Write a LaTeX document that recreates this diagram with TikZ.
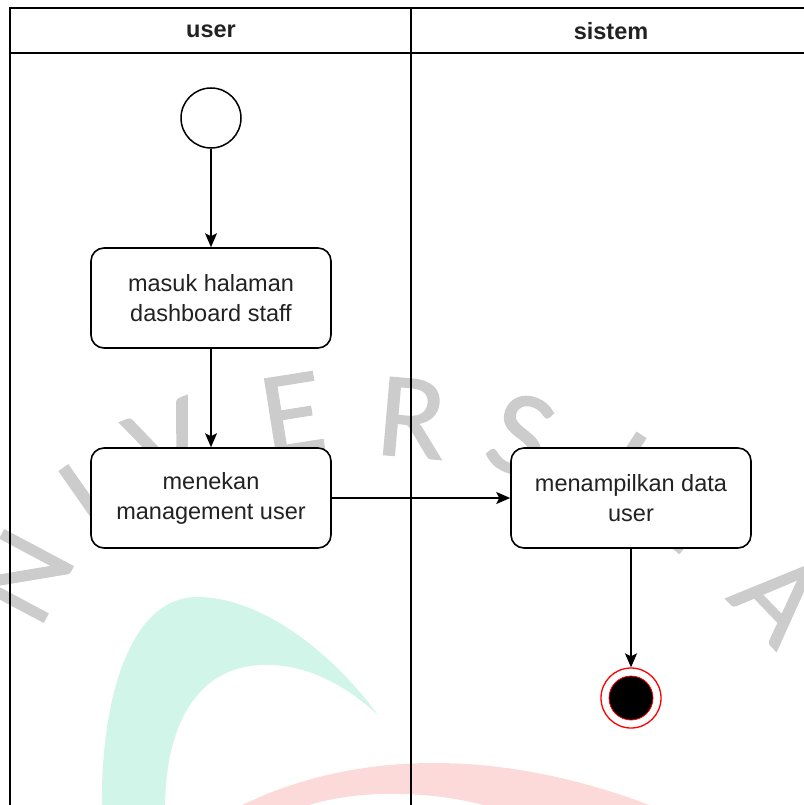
\documentclass[tikz,border=0pt]{standalone}
\usepackage{fontspec}
\setmainfont{Liberation Sans}
\newfontfamily\markfont[BoldFont={Lato}, BoldFeatures={FakeBold=1.6}]{Lato}
\usetikzlibrary{arrows.meta}

\definecolor{wmgrey}{HTML}{CCCCCC}
\definecolor{wmteal}{HTML}{D2F5EA}
\definecolor{wmpink}{HTML}{FDDADA}
\definecolor{txt}{HTML}{222222}

\tikzset{
  lane/.style={line width=1.5pt, draw=black},
  hdr/.style={font=\fontsize{23.5}{28}\selectfont\bfseries, text=txt},
  act/.style={draw=black, line width=1.6pt, fill=white, rectangle,
    rounded corners=13pt, minimum width=240pt, minimum height=100pt,
    align=center, text=txt, font=\fontsize{23.5}{30}\selectfont},
  initnode/.style={draw=black, line width=1.5pt, fill=white, circle,
    minimum size=60pt, inner sep=0pt},
  finalnode/.style={draw=red, line width=1.3pt, fill=white, circle,
    minimum size=60pt, inner sep=0pt},
  flow/.style={line width=1.5pt, draw=black,
    -{Stealth[length=14pt, width=12pt, inset=3pt]}},
  wm/.style={text=wmgrey, inner sep=0pt,
    font=\markfont\bfseries\fontsize{108}{108}\selectfont}
}

\begin{document}
\begin{tikzpicture}[x=1pt, y=-1pt]
\useasboundingbox (0,0) rectangle (803,805);

% faint background mark: arched lettering and two crescents
\node[wm, rotate=62]  (wN)  at (24,576)  {N};
\node[wm, rotate=35]  (wI1) at (86,500)  {I};
\node[wm, rotate=22]  (wV)  at (168,445) {V};
\node[wm, rotate=9]   (wE)  at (292,414) {E};
\node[wm, rotate=-5]  (wR)  at (411,418) {R};
\node[wm, rotate=-20] (wS)  at (521,435) {S};
\node[wm, rotate=-33] (wI2) at (620,468) {I};
\node[wm, rotate=-40] (wT)  at (700,520) {T};
\node[wm, rotate=-46] (wA)  at (779,598) {A};

\fill[wmteal] (102,810) .. controls (100,700) and (130,597) .. (197,597)
  .. controls (260,597) and (330,650) .. (378,715)
  .. controls (340,680) and (300,663) .. (260,665)
  .. controls (200,668) and (165,720) .. (165,810) -- cycle;
\fill[wmpink] (232,810) .. controls (300,775) and (370,763) .. (434,763)
  .. controls (520,763) and (600,785) .. (662,810) -- (500,810)
  .. controls (460,797) and (420,793) .. (380,794)
  .. controls (350,795) and (320,800) .. (295,810) -- cycle;

% swimlane frame
\draw[lane] (10,810) -- (10,8) -- (810,8);
\draw[lane] (10,53) -- (810,53);
\draw[lane] (411,8) -- (411,810);
\node[hdr] (hUser)   at (211,31) {user};
\node[hdr] (hSistem) at (611,31) {sistem};

% activities
\node[initnode] (start) at (211,118) {};
\node[act] (a1) at (211,298) {masuk halaman\\dashboard staff};
\node[act] (a2) at (211,498) {menekan\\management user};
\node[act] (a3) at (631,498) {menampilkan data\\user};
\node[finalnode] (stop) at (631,698) {};
\fill[black, draw=red, line width=0.8pt] (stop.center) circle (22);

% control flow
\draw[flow] (start) -- (a1);
\draw[flow] (a1) -- (a2);
\draw[flow] (a2) -- (a3);
\draw[flow] (a3) -- (stop);
\end{tikzpicture}
\end{document}
